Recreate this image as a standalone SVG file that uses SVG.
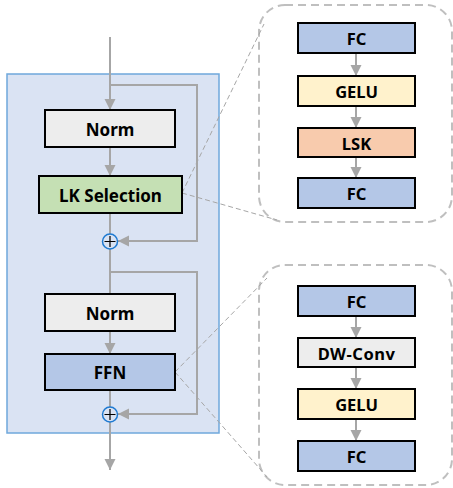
<svg xmlns="http://www.w3.org/2000/svg" width="453" height="488" viewBox="0 0 453 488">
<defs>
<marker id="ah" markerUnits="userSpaceOnUse" markerWidth="12" markerHeight="12" refX="11" refY="6" orient="auto" viewBox="0 0 12 12">
<path d="M0,0.5 L11,6 L0,11.5 z" fill="#a6a6a6"/>
</marker>
<style>
.box{stroke:#000;stroke-width:2}
.t{font-family:"Noto Sans","Open Sans","Liberation Sans",sans-serif;font-weight:bold;fill:#000;text-anchor:middle;dominant-baseline:central}
.m{font-size:17px}
.s{font-size:16.5px}
.ln{fill:none;stroke:#a6a6a6;stroke-width:2}
.dash{fill:none;stroke:#a6a6a6;stroke-width:1;stroke-dasharray:5 3}
.panel{fill:none;stroke:#bfbfbf;stroke-width:2;stroke-dasharray:8 5}
.norm{fill:#ededed}
.blue{fill:#b4c7e7}
.green{fill:#c5e0b4}
.yellow{fill:#fff2cc}
.orange{fill:#f8cbad}
</style>
</defs>

<rect id="container" x="7" y="74" width="212" height="359" fill="#dae3f3" stroke="#6fa8dc" stroke-width="1.5"/>

<rect id="panel1" x="259" y="5" width="193" height="217" rx="26" class="panel"/>
<rect id="panel2" x="259" y="265" width="193" height="220" rx="26" class="panel"/>

<g id="connectors">
<line x1="110" y1="37" x2="110" y2="110" class="ln" marker-end="url(#ah)"/>
<polyline points="110,85 197,85 197,241 118,241" class="ln" marker-end="url(#ah)"/>
<line x1="110" y1="147" x2="110" y2="176" class="ln" marker-end="url(#ah)"/>
<line x1="110" y1="213" x2="110" y2="234" class="ln"/>
<line x1="110" y1="249" x2="110" y2="294" class="ln"/>
<polyline points="110,272 197,272 197,414 118,414" class="ln" marker-end="url(#ah)"/>
<line x1="110" y1="331" x2="110" y2="354" class="ln" marker-end="url(#ah)"/>
<line x1="110" y1="390" x2="110" y2="407" class="ln"/>
<line x1="110" y1="422" x2="110" y2="470" class="ln" marker-end="url(#ah)"/>

<line x1="356" y1="53" x2="356" y2="76" class="ln" marker-end="url(#ah)"/>
<line x1="356" y1="106" x2="356" y2="128" class="ln" marker-end="url(#ah)"/>
<line x1="356" y1="157" x2="356" y2="178" class="ln" marker-end="url(#ah)"/>

<line x1="356" y1="316" x2="356" y2="338" class="ln" marker-end="url(#ah)"/>
<line x1="356" y1="367" x2="356" y2="389" class="ln" marker-end="url(#ah)"/>
<line x1="356" y1="419" x2="356" y2="441" class="ln" marker-end="url(#ah)"/>

<line x1="182" y1="193" x2="264" y2="24" class="dash"/>
<line x1="182" y1="193" x2="277" y2="220" class="dash"/>
<line x1="175" y1="372" x2="267" y2="278" class="dash"/>
<line x1="175" y1="372" x2="267" y2="477" class="dash"/>
</g>

<g id="norm1"><rect x="45" y="110" width="130" height="37" class="box norm"/><text x="110" y="129" class="t m">Norm</text></g>
<g id="lksel"><rect x="39" y="176" width="143" height="37" class="box green"/><text x="110.5" y="195" class="t m">LK Selection</text></g>
<g id="plus1"><circle cx="110" cy="241.5" r="7.5" fill="#dae3f3" stroke="#1f7ad1" stroke-width="1.5"/><path d="M104.5,241.5 H115.5 M110,236 V247" stroke="#000" stroke-width="1.2"/></g>
<g id="norm2"><rect x="45" y="294" width="130" height="37" class="box norm"/><text x="110" y="313" class="t m">Norm</text></g>
<g id="ffn"><rect x="45" y="354" width="130" height="36" class="box blue"/><text x="110" y="372.5" class="t m">FFN</text></g>
<g id="plus2"><circle cx="110" cy="414.5" r="7.5" fill="#dae3f3" stroke="#1f7ad1" stroke-width="1.5"/><path d="M104.5,414.5 H115.5 M110,409 V420" stroke="#000" stroke-width="1.2"/></g>

<g id="p1fc1"><rect x="298" y="23" width="117" height="30" class="box blue"/><text x="356.5" y="38.5" class="t s">FC</text></g>
<g id="p1gelu"><rect x="298" y="76" width="117" height="30" class="box yellow"/><text x="356.5" y="91.5" class="t s">GELU</text></g>
<g id="p1lsk"><rect x="298" y="128" width="117" height="29" class="box orange"/><text x="356.5" y="143" class="t s">LSK</text></g>
<g id="p1fc2"><rect x="298" y="178" width="117" height="30" class="box blue"/><text x="356.5" y="193.5" class="t s">FC</text></g>

<g id="p2fc1"><rect x="298" y="286" width="117" height="30" class="box blue"/><text x="356.5" y="301.5" class="t s">FC</text></g>
<g id="p2dw"><rect x="298" y="338" width="117" height="29" class="box norm"/><text x="356.5" y="353" class="t s" letter-spacing="0.5">DW-Conv</text></g>
<g id="p2gelu"><rect x="298" y="389" width="117" height="30" class="box yellow"/><text x="356.5" y="404.5" class="t s">GELU</text></g>
<g id="p2fc2"><rect x="298" y="441" width="117" height="30" class="box blue"/><text x="356.5" y="456.5" class="t s">FC</text></g>
</svg>
